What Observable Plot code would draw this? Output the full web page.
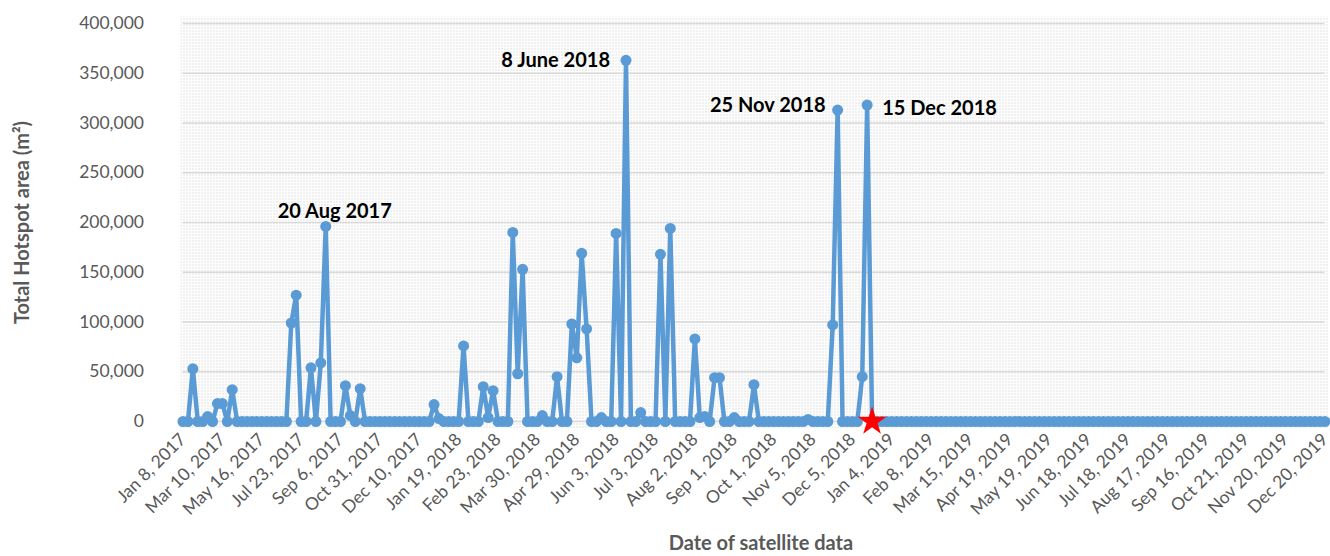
<!DOCTYPE html>
<html>
<head>
<meta charset="utf-8">
<script src="https://cdn.jsdelivr.net/npm/d3@7"></script>
<script src="https://cdn.jsdelivr.net/npm/@observablehq/plot@0.6"></script>
<style>
  body { margin: 0; background: #ffffff; }
  #chart svg { display: block; }
</style>
</head>
<body>
<div id="chart"></div>
<script>
// Total hotspot area (m²) for each satellite scene, in category order
const hotspotArea = [
  0, 0, 53000, 0, 0, 5000, 0, 18000, 18000, 0,
  32000, 0, 0, 0, 0, 0, 0, 0, 0, 0,
  0, 0, 99000, 127000, 0, 0, 54000, 0, 59000, 196000,
  0, 0, 0, 36000, 6000, 0, 33000, 0, 0, 0,
  0, 0, 0, 0, 0, 0, 0, 0, 0, 0,
  0, 17000, 3000, 0, 0, 0, 0, 76000, 0, 0,
  0, 35000, 4000, 31000, 0, 0, 0, 190000, 48000, 153000,
  0, 0, 0, 6000, 0, 0, 45000, 0, 0, 98000,
  64000, 169000, 93000, 0, 0, 4000, 0, 0, 189000, 0,
  363000, 0, 0, 9000, 0, 0, 0, 168000, 0, 194000,
  0, 0, 0, 0, 83000, 4000, 5000, 0, 44000, 44000,
  0, 0, 4000, 0, 0, 0, 37000, 0, 0, 0,
  0, 0, 0, 0, 0, 0, 0, 2000, 0, 0,
  0, 0, 97000, 313000, 0, 0, 0, 0, 45000, 318000,
  0, 0, 0, 0, 0, 0, 0, 0, 0, 0,
  0, 0, 0, 0, 0, 0, 0, 0, 0, 0,
  0, 0, 0, 0, 0, 0, 0, 0, 0, 0,
  0, 0, 0, 0, 0, 0, 0, 0, 0, 0,
  0, 0, 0, 0, 0, 0, 0, 0, 0, 0,
  0, 0, 0, 0, 0, 0, 0, 0, 0, 0,
  0, 0, 0, 0, 0, 0, 0, 0, 0, 0,
  0, 0, 0, 0, 0, 0, 0, 0, 0, 0,
  0, 0, 0, 0, 0, 0, 0, 0, 0, 0,
  0, 0, 0
];

// Category labels shown on the x axis (one every 8 scenes)
const tickLabels = [
  "Jan 8, 2017", "Mar 10, 2017", "May 16, 2017", "Jul 23, 2017", "Sep 6, 2017",
  "Oct 31, 2017", "Dec 10, 2017", "Jan 19, 2018", "Feb 23, 2018", "Mar 30, 2018",
  "Apr 29, 2018", "Jun 3, 2018", "Jul 3, 2018", "Aug 2, 2018", "Sep 1, 2018",
  "Oct 1, 2018", "Nov 5, 2018", "Dec 5, 2018", "Jan 4, 2019", "Feb 8, 2019",
  "Mar 15, 2019", "Apr 19, 2019", "May 19, 2019", "Jun 18, 2019", "Jul 18, 2019",
  "Aug 17, 2019", "Sep 16, 2019", "Oct 21, 2019", "Nov 20, 2019", "Dec 20, 2019"
];
const tickStep = 8;

const yTicks = [0, 50000, 100000, 150000, 200000, 250000, 300000, 350000, 400000];

// Annotated peaks (category index + label)
const peakIndex = [29, 90, 133, 139];
const peakLabels = ["20 Aug 2017", "8 June 2018", "25 Nov 2018", "15 Dec 2018"];

// Scene marked with a red star
const starIndex = [140];

const idx = hotspotArea.map((_, i) => i);
const tickIdx = tickLabels.map((_, k) => k * tickStep);
const peaks = peakIndex.map((i, k) => ({ i, v: hotspotArea[i], label: peakLabels[k] }));

const blue = "#5b9bd5";
const grey = "#595959";
const labelFont = { fontSize: 20, fontWeight: "bold", fill: "#000" };

const chart = Plot.plot({
  width: 1330,
  height: 556,
  marginLeft: 182.5,
  marginRight: 5.6,
  marginTop: 23,
  marginBottom: 135,
  style: { fontFamily: "Lato, 'Open Sans', sans-serif", fontSize: "17px", color: grey, background: "#ffffff", overflow: "visible" },
  x: { type: "linear", domain: [0, hotspotArea.length - 1], axis: null },
  y: { domain: [0, 400000], axis: null },
  marks: [
    Plot.frame({ fill: "url(#dots)", stroke: "none", insetTop: -7, insetBottom: -7, insetLeft: -2.5, insetRight: -3.6 }),
    Plot.gridY(yTicks, { stroke: "#d9d9d9", strokeOpacity: 1, strokeWidth: 1.5 }),
    Plot.axisY(yTicks, {
      tickSize: 0, tickPadding: 39, tickFormat: d3.format(","),
      fontSize: 17.5, fill: grey, label: null
    }),
    Plot.axisX(tickIdx, {
      tickSize: 0, tickPadding: 15, tickRotate: -45,
      tickFormat: (d) => tickLabels[d / tickStep],
      fontSize: 17.5, fill: grey, label: null
    }),
    Plot.text(["Total Hotspot area (m²)"], {
      frameAnchor: "left", rotate: -90, dx: -160, textAnchor: "middle", lineAnchor: "middle",
      fontSize: 20, fontWeight: "bold", fill: grey
    }),
    Plot.text(["Date of satellite data"], {
      frameAnchor: "bottom", dy: 122, dx: 7, lineAnchor: "middle",
      fontSize: 20, fontWeight: "bold", fill: grey
    }),
    Plot.line(idx, { x: (i) => i, y: (i) => hotspotArea[i], stroke: blue, strokeWidth: 4.5, strokeLinejoin: "round" }),
    Plot.dot(idx, { x: (i) => i, y: (i) => hotspotArea[i], r: 5.5, fill: blue, stroke: "none" }),
    Plot.dot(starIndex, { x: (i) => i, y: (i) => hotspotArea[i], symbol: "star", r: 9, fill: "#ff0000", stroke: "none" }),
    // annotations
    Plot.text(peaks.filter((d) => d.i === peakIndex[0]), {
      x: "i", y: "v", text: "label", textAnchor: "middle", dx: 9, dy: -15, ...labelFont
    }),
    Plot.text(peaks.filter((d) => d.i === peakIndex[1]), {
      x: "i", y: "v", text: "label", textAnchor: "end", dx: -16, dy: 0, ...labelFont
    }),
    Plot.text(peaks.filter((d) => d.i === peakIndex[2]), {
      x: "i", y: "v", text: "label", textAnchor: "end", dx: -12, dy: -4, ...labelFont
    }),
    Plot.text(peaks.filter((d) => d.i === peakIndex[3]), {
      x: "i", y: "v", text: "label", textAnchor: "start", dx: 15, dy: 4, ...labelFont
    })
  ]
});

// dotted plot-area fill
const defs = d3.select(chart).insert("defs", ":first-child");
const pat = defs.append("pattern").attr("id", "dots")
  .attr("width", 3).attr("height", 3).attr("patternUnits", "userSpaceOnUse");
pat.append("rect").attr("width", 3).attr("height", 3).attr("fill", "#ffffff");
pat.append("rect").attr("width", 1).attr("height", 1).attr("fill", "#c4c4c4");

document.getElementById("chart").appendChild(chart);
</script>
</body>
</html>
